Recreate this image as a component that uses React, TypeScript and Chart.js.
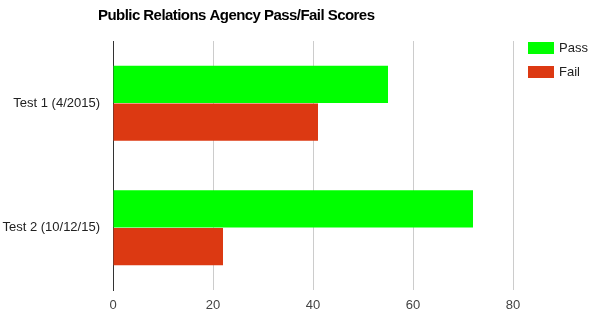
import React, { useEffect, useRef } from "react";
import { Chart, registerables } from "chart.js";

Chart.register(...registerables);

const categories = ["Test 1 (4/2015)", "Test 2 (10/12/15)"];
const passValues = [55, 72];
const failValues = [41, 22];
const seriesNames = ["Pass", "Fail"];
const seriesColors = ["#00ff00", "#dc3912"];
const xTicks = [0, 20, 40, 60, 80];
const titleText = "Public Relations Agency Pass/Fail Scores";

const FONT = "Arial, 'Liberation Sans', sans-serif";

const overlay = {
  id: "overlay",
  afterDraw(chart: any) {
    const ctx = chart.ctx;
    ctx.save();
    ctx.fillStyle = "#000";
    ctx.font = `bold 15px ${FONT}`;
    ctx.textAlign = "left";
    ctx.textBaseline = "alphabetic";
    try { (ctx as any).letterSpacing = "-0.55px"; } catch (e) {}
    ctx.fillText(titleText, 98, 20);
    try { (ctx as any).letterSpacing = "0px"; } catch (e) {}
    chart.data.datasets.forEach((ds: any, i: number) => {
      const y = 42 + i * 24;
      ctx.fillStyle = ds.backgroundColor;
      ctx.fillRect(528, y, 26, 12);
      ctx.fillStyle = "#222";
      ctx.font = `13px ${FONT}`;
      ctx.textBaseline = "middle";
      ctx.fillText(ds.label, 559, y + 6.5);
    });
    ctx.restore();
  },
};

export default function App() {
  const ref = useRef<HTMLCanvasElement>(null);
  useEffect(() => {
    document.body.style.margin = "0";
    const chart = new Chart(ref.current as HTMLCanvasElement, {
      type: "bar",
      data: {
        labels: categories,
        datasets: [
          { label: seriesNames[0], data: passValues, backgroundColor: seriesColors[0] },
          { label: seriesNames[1], data: failValues, backgroundColor: seriesColors[1] },
        ],
      },
      options: {
        indexAxis: "y",
        responsive: false,
        animation: false,
        layout: { padding: { top: 41, right: 87, left: 0, bottom: 0 } },
        datasets: { bar: { categoryPercentage: 0.605, barPercentage: 0.985 } },
        plugins: { legend: { display: false }, title: { display: false }, tooltip: { enabled: false } },
        scales: {
          x: {
            min: 0,
            max: 80,
            afterFit: (s: any) => { s.height = 30; },
            afterBuildTicks: (s: any) => { s.ticks = xTicks.map((v) => ({ value: v })); },
            grid: {
              color: (c: any) => (c.tick && c.tick.value === 0 ? "#333" : "#cccccc"),
              drawTicks: false,
            },
            border: { display: false },
            ticks: { color: "#444", font: { family: FONT, size: 13 }, padding: 8 },
          },
          y: {
            afterFit: (s: any) => { s.width = 113; },
            grid: { display: false, drawTicks: false },
            border: { display: true, color: "#333", width: 1 },
            ticks: { color: "#222", font: { family: FONT, size: 13 }, padding: 13 },
          },
        },
      },
      plugins: [overlay],
    } as any);
    return () => chart.destroy();
  }, []);
  return (
    <div style={{ position: "absolute", left: 0, top: 0, width: 600, height: 320 }}>
      <canvas ref={ref} width={600} height={320} />
    </div>
  );
}
